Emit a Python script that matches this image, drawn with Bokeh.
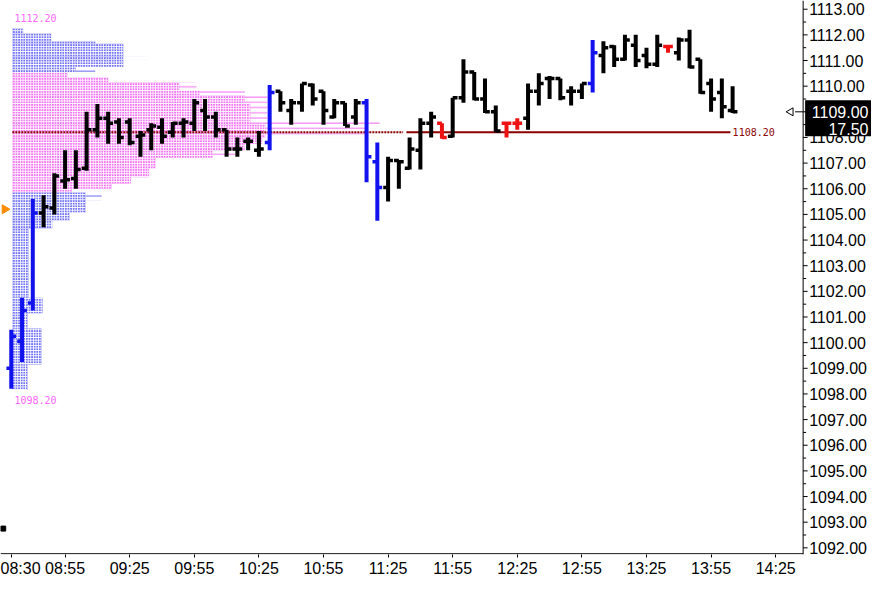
import math
from bokeh.plotting import figure
from bokeh.models import Range1d, FixedTicker, ColumnDataSource
from bokeh.core.properties import value
from bokeh.embed import file_html
from bokeh.resources import INLINE

# ---------------- data ----------------
bar_open = [1099.0, 1100.05, 1101.55, 1105.05, 1105.25, 1106.3, 1106.4, 1106.8, 1108.3, 1108.75,
            1108.6, 1108.6, 1108.05, 1108.3, 1108.4, 1108.2, 1108.55, 1108.55, 1109.05, 1108.8,
            1108.3, 1107.55, 1107.85, 1107.5, 1107.8, 1109.8, 1109.05, 1109.35, 1110.05, 1109.8,
            1108.8, 1109.35, 1108.8, 1109.35, 1107.05, 1106.05, 1107.1, 1106.8, 1107.5, 1108.55,
            1108.55, 1108.05, 1109.55, 1110.55, 1109.5, 1109.0, 1108.55, 1108.55, 1108.75, 1109.8,
            1110.3, 1110.3, 1109.8, 1109.8, 1110.1, 1111.2, 1111.55, 1111.05, 1111.6, 1111.2,
            1110.85, 1111.55, 1111.3, 1111.8, 1111.05, 1110.1, 1109.75, 1109.05]
bar_high = [1100.5, 1101.75, 1105.6, 1105.75, 1106.6, 1107.5, 1107.5, 1109.0, 1109.3, 1109.0,
            1108.75, 1108.75, 1108.25, 1108.55, 1108.75, 1108.6, 1108.75, 1109.5, 1109.5, 1109.0,
            1108.3, 1108.0, 1108.0, 1108.25, 1110.05, 1109.8, 1109.5, 1110.1, 1110.1, 1109.8,
            1109.5, 1109.35, 1109.5, 1109.5, 1107.8, 1107.25, 1107.1, 1108.0, 1108.75, 1109.0,
            1108.55, 1109.55, 1111.05, 1110.55, 1110.3, 1109.25, 1108.6, 1108.75, 1110.1, 1110.5,
            1110.4, 1110.3, 1110.0, 1110.1, 1111.8, 1111.75, 1111.6, 1112.0, 1112.0, 1111.5,
            1112.0, 1111.6, 1111.9, 1112.2, 1111.05, 1110.3, 1110.3, 1110.0]
bar_low = [1098.2, 1099.25, 1101.25, 1104.5, 1105.0, 1106.0, 1106.0, 1106.7, 1108.0, 1107.75,
           1107.75, 1107.7, 1107.25, 1107.5, 1107.75, 1108.0, 1108.0, 1108.25, 1108.25, 1108.0,
           1107.25, 1107.25, 1107.5, 1107.25, 1107.5, 1109.0, 1108.5, 1109.0, 1109.25, 1108.5,
           1108.75, 1108.45, 1108.5, 1106.25, 1104.75, 1105.5, 1106.0, 1106.75, 1106.75, 1108.0,
           1107.95, 1108.0, 1109.35, 1109.45, 1108.95, 1108.2, 1108.0, 1108.3, 1108.3, 1109.25,
           1109.5, 1109.45, 1109.25, 1109.5, 1109.75, 1110.5, 1110.75, 1111.0, 1110.75, 1110.7,
           1110.75, 1111.3, 1111.0, 1110.7, 1109.7, 1109.0, 1108.75, 1108.95]
bar_close = [1100.25, 1101.25, 1105.05, 1105.3, 1106.5, 1106.35, 1106.75, 1108.3, 1108.75, 1108.55,
             1108.0, 1107.8, 1108.1, 1108.45, 1108.05, 1108.55, 1108.6, 1109.35, 1108.8, 1108.3,
             1107.55, 1107.55, 1107.85, 1107.55, 1109.75, 1109.35, 1109.35, 1110.1, 1109.5, 1109.05,
             1109.35, 1108.45, 1109.35, 1107.25, 1106.05, 1107.1, 1107.05, 1107.55, 1108.55, 1108.8,
             1108.0, 1109.55, 1110.55, 1109.5, 1109.0, 1108.25, 1108.55, 1108.55, 1109.8, 1110.1,
             1110.3, 1109.55, 1109.8, 1110.1, 1111.3, 1111.5, 1111.05, 1111.8, 1111.0, 1110.85,
             1111.6, 1111.55, 1111.8, 1110.75, 1109.75, 1109.5, 1109.2, 1109.0]
# b = range-extension bar (blue), r = red bar, k = normal bar
bar_kind = ["b", "b", "b", "k", "k", "k", "k", "k", "k", "k",
            "k", "k", "k", "k", "k", "k", "k", "k", "k", "k",
            "k", "k", "k", "k", "b", "k", "k", "k", "k", "k",
            "k", "k", "k", "b", "b", "k", "k", "k", "k", "k",
            "r", "k", "k", "k", "k", "k", "r", "r", "k", "k",
            "k", "k", "k", "k", "b", "k", "k", "k", "k", "k",
            "k", "r", "k", "k", "k", "k", "k", "k"]

tick_bar = [1, 6, 12, 18, 24, 30, 36, 42, 48, 54, 60, 66, 72]
tick_time = ["08:30", "08:55", "09:25", "09:55", "10:25", "10:55", "11:25",
             "11:55", "12:25", "12:55", "13:25", "13:55", "14:25"]
y_ticks = list(range(1092, 1114))

# market profile: price band, dense length, faint extension length (in bar units), zone
prof_lo = [1112.05, 1111.75, 1111.65, 1111.15, 1111.05, 1110.75, 1110.55,
           1110.35, 1110.15, 1109.85, 1109.65, 1109.35, 1108.65, 1108.5, 1108.0, 1107.75,
           1107.5, 1107.2, 1106.8, 1106.45, 1106.2, 1106.0, 1105.85,
           1105.55, 1105.05, 1104.75, 1104.45, 1101.75, 1101.15, 1100.55, 1099.15, 1098.15]
prof_hi = [1112.25, 1112.05, 1111.75, 1111.65, 1111.15, 1111.05, 1110.75,
           1110.55, 1110.35, 1110.15, 1109.85, 1109.65, 1109.35, 1108.65, 1108.5, 1108.0,
           1107.75, 1107.5, 1107.2, 1106.8, 1106.45, 1106.2, 1106.0,
           1105.85, 1105.55, 1105.05, 1104.75, 1104.45, 1101.75, 1101.15, 1100.55, 1099.15]
prof_len = [1.0, 3.6, 7.7, 10.3, 10.3, 10.3, 5.9,
            5.1, 8.9, 15.5, 17.4, 21.6, 22.1, 22.1, 23.5, 23.2,
            21.6, 18.6, 13.3, 12.7, 11.0, 9.2, 5.5,
            6.8, 6.8, 5.3, 3.7, 1.5, 2.8, 1.4, 2.7, 1.4]
prof_ext = [1.0, 3.6, 7.7, 10.3, 12.5, 10.3, 7.7,
            5.1, 8.9, 17.1, 21.6, 23.7, 23.7, 34.1, 32.8, 23.2,
            21.6, 20.7, 13.3, 12.7, 11.0, 9.2, 5.5,
            8.3, 6.8, 5.3, 3.7, 1.5, 2.8, 1.4, 2.7, 1.4]
prof_zone = ["o"] * 7 + ["v"] * 16 + ["o"] * 9
prof_top = 1112.20
prof_bottom = 1098.20
poc_price = 1108.20
last_price = 1109.00
net_change = 17.50
arrow_price = 1105.20
marker_price = 1092.75

# ---------------- figure ----------------
W, H = 871, 579
X_END = 80.9          # canvas right edge (bar units)
X_AX = 74.55          # price-axis position (bar units)
PXU = 871 / X_END     # pixels per bar unit
Y0, Y1 = 1091.74, 1113.34

p = figure(width=W, height=H, x_range=Range1d(0, X_END), y_range=Range1d(Y0, Y1),
           y_axis_location=None, toolbar_location=None, output_backend="svg",
           min_border_left=0, min_border_top=0, min_border_right=0, min_border_bottom=0)
p.xgrid.visible = False
p.ygrid.visible = False
p.outline_line_color = None
p.background_fill_color = "white"
p.border_fill_color = "white"

AXF = "Liberation Sans"
p.xaxis.ticker = FixedTicker(ticks=tick_bar, minor_ticks=[])
p.xaxis.major_label_overrides = {t: s for t, s in zip(tick_bar, tick_time)}
p.xaxis.major_label_text_font = AXF
p.xaxis.major_label_text_font_size = "16px"
p.xaxis.major_label_text_color = "black"
p.xaxis.major_tick_out = 3
p.xaxis.major_tick_in = 0
p.xaxis.major_tick_line_color = "black"
p.xaxis.major_label_standoff = 2
p.xaxis.axis_line_color = None

# bottom axis line (stops at the price axis)
p.segment(x0=[0], y0=[Y0 + 0.03], x1=[X_AX], y1=[Y0 + 0.03], line_color="black", line_width=1)

# ---------------- price axis on the right (drawn through the y scale) ----------------
minor = [t + 0.5 for t in y_ticks[:-1]] + [y_ticks[0] - 0.5]
p.segment(x0=[X_AX], y0=[Y0], x1=[X_AX], y1=[Y1], line_color="black", line_width=1)
p.segment(x0=[X_AX] * len(y_ticks), y0=y_ticks, x1=[X_AX + 4.5 / PXU] * len(y_ticks), y1=y_ticks,
          line_color="black", line_width=1)
p.segment(x0=[X_AX] * len(minor), y0=minor, x1=[X_AX + 3 / PXU] * len(minor), y1=minor,
          line_color="black", line_width=1)
p.text(x=[X_AX + 6 / PXU] * len(y_ticks), y=y_ticks, text=[f"{t:.2f}" for t in y_ticks],
       text_font=value(AXF), text_font_size="16px", text_color="black",
       text_baseline="middle", text_align="left")

# ---------------- profile ----------------
zone_col = {"o": "#7474f6", "v": "#f274f2"}
x0 = 1.1
psrc = ColumnDataSource(dict(
    bottom=prof_lo, top=prof_hi,
    left=[x0] * len(prof_lo),
    right=[x0 + v for v in prof_len],
    right_ext=[x0 + v for v in prof_ext],
    col=[zone_col[z] for z in prof_zone]))
p.quad(left="left", right="right_ext", bottom="bottom", top="top", source=psrc,
       fill_alpha=0.0, line_color=None,
       hatch_pattern="-", hatch_color="col", hatch_scale=5.2, hatch_weight=1.3, hatch_alpha=0.8)
p.quad(left="left", right="right", bottom="bottom", top="top", source=psrc,
       fill_color="col", fill_alpha=1.0, line_color=None,
       hatch_pattern="+", hatch_color="white", hatch_scale=2.6, hatch_weight=1.0, hatch_alpha=1.0)

p.text(x=[x0 + 0.2], y=[prof_top], text=[f"{prof_top:.2f}"], text_color="#ff66ff",
       text_font=value("DejaVu Sans Mono"), text_font_size="10px",
       text_baseline="bottom", y_offset=-8)
p.text(x=[x0 + 0.2], y=[prof_bottom], text=[f"{prof_bottom:.2f}"], text_color="#ff66ff",
       text_font=value("DejaVu Sans Mono"), text_font_size="10px",
       text_baseline="top", y_offset=7)

# POC lines
p.segment(x0=[x0], y0=[poc_price], x1=[37.4], y1=[poc_price], line_color="#8b0000",
          line_width=2, line_dash="2 1")
p.segment(x0=[37.7], y0=[poc_price], x1=[67.8], y1=[poc_price], line_color="#8b0000",
          line_width=2)
p.text(x=[68.0], y=[poc_price], text=[f"{poc_price:.2f}"], text_color="#8b0000",
       text_font=value("DejaVu Sans Mono"), text_font_size="10px", text_baseline="middle")

# ---------------- OHLC bars ----------------
kind_col = {"b": "#1212ee", "k": "#000000", "r": "#ee1212"}
idx = list(range(1, len(bar_open) + 1))
src = ColumnDataSource(dict(
    x=idx, o=bar_open, h=bar_high, l=bar_low, c=bar_close,
    xl=[i - 0.45 for i in idx], xr=[i + 0.45 for i in idx],
    col=[kind_col[k] for k in bar_kind]))
p.segment(x0="x", y0="l", x1="x", y1="h", source=src, line_color="col", line_width=4,
          line_cap="butt")
p.segment(x0="xl", y0="o", x1="x", y1="o", source=src, line_color="col", line_width=3.5,
          line_cap="butt")
p.segment(x0="x", y0="c", x1="xr", y1="c", source=src, line_color="col", line_width=3.5,
          line_cap="butt")

# markers
p.scatter(x=[0.4], y=[arrow_price], marker="triangle", angle=-math.pi / 2, size=9,
          fill_color="#ff8c00", line_color="#ff8c00")
p.scatter(x=[0.25], y=[marker_price], marker="square", size=5, fill_color="black",
          line_color="black")
p.scatter(x=[X_AX - 1.15], y=[last_price], marker="triangle", angle=math.pi / 2, size=8,
          fill_color="white", line_color="black", line_width=1)
p.segment(x0=[X_AX - 0.75], y0=[last_price], x1=[X_AX], y1=[last_price], line_color="black",
          line_width=1)

# last price / net change box on the price axis
p.quad(left=[X_AX + 2 / PXU], right=[X_END], top=[last_price + 0.45],
       bottom=[last_price - 0.95], fill_color="black", line_color=None)
p.text(x=[X_END - 3 / PXU], y=[last_price], text=[f"{last_price:.2f}"],
       text_font=value(AXF), text_font_size="16px", text_color="white",
       text_baseline="middle", text_align="right")
p.text(x=[X_END - 3 / PXU], y=[last_price - 0.68], text=[f"{net_change:.2f}"],
       text_font=value(AXF), text_font_size="16px", text_color="white",
       text_baseline="middle", text_align="right")

open("out.html", "w").write(file_html(p, INLINE))
